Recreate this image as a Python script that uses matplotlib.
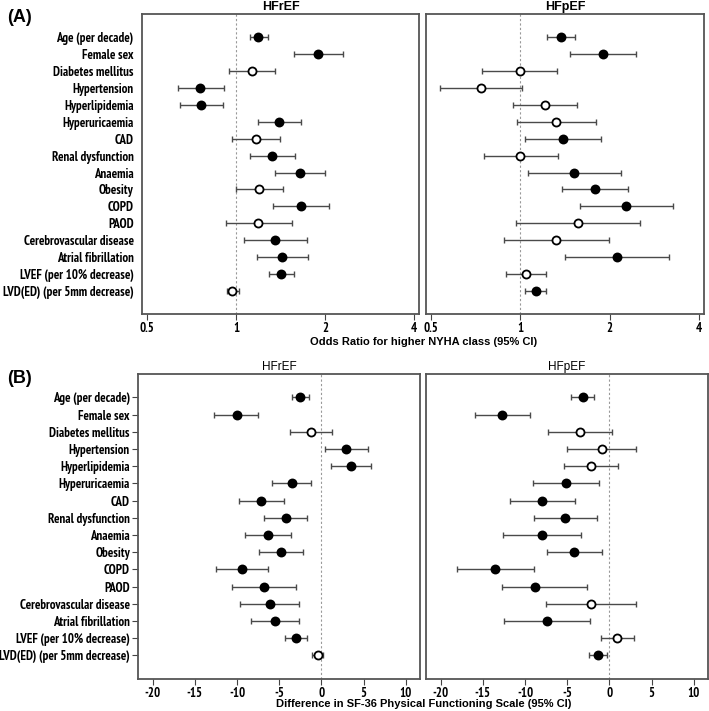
import matplotlib
matplotlib.use("Agg")
import matplotlib.pyplot as plt
from matplotlib import font_manager
import numpy as np

labels = ["Age (per decade)", "Female sex", "Diabetes mellitus", "Hypertension",
          "Hyperlipidemia", "Hyperuricaemia", "CAD", "Renal dysfunction", "Anaemia",
          "Obesity", "COPD", "PAOD", "Cerebrovascular disease", "Atrial fibrillation",
          "LVEF (per 10% decrease)", "LVD(ED) (per 5mm decrease)"]

# Panel A: odds ratios
a_ref_est = [1.19, 1.90, 1.13, 0.757, 0.763, 1.40, 1.166, 1.327, 1.642, 1.199, 1.659, 1.187, 1.358, 1.435, 1.424, 0.972]
a_ref_lo  = [1.115, 1.567, 0.945, 0.635, 0.647, 1.184, 0.969, 1.113, 1.355, 0.997, 1.337, 0.923, 1.067, 1.18, 1.296, 0.935]
a_ref_hi  = [1.286, 2.30, 1.35, 0.909, 0.901, 1.655, 1.409, 1.583, 1.995, 1.438, 2.07, 1.55, 1.739, 1.747, 1.571, 1.024]
a_ref_sig = [1, 1, 0, 1, 1, 1, 0, 1, 1, 0, 1, 0, 1, 1, 1, 0]

a_pre_est = [1.369, 1.904, 0.995, 0.738, 1.208, 1.323, 1.391, 1.0, 1.519, 1.784, 2.277, 1.563, 1.323, 2.117, 1.045, 1.127]
a_pre_lo  = [1.231, 1.468, 0.744, 0.536, 0.945, 0.972, 1.037, 0.754, 1.061, 1.38, 1.584, 0.967, 0.878, 1.416, 0.897, 1.037]
a_pre_hi  = [1.527, 2.46, 1.334, 1.015, 1.555, 1.798, 1.865, 1.344, 2.18, 2.31, 3.276, 2.526, 1.99, 3.175, 1.221, 1.224]
a_pre_sig = [1, 1, 0, 0, 0, 0, 1, 0, 1, 1, 1, 0, 0, 1, 0, 1]

# Panel B: SF-36 differences
b_ref_est = [-2.49, -10.04, -1.26, 2.96, 3.52, -3.52, -7.15, -4.23, -6.32, -4.78, -9.37, -6.8, -6.13, -5.45, -3.04, -0.43]
b_ref_lo  = [-3.48, -12.77, -3.72, 0.47, 1.19, -5.81, -9.76, -6.8, -9.05, -7.39, -12.45, -10.55, -9.64, -8.3, -4.35, -1.07]
b_ref_hi  = [-1.5, -7.47, 1.26, 5.49, 5.89, -1.19, -4.47, -1.7, -3.6, -2.21, -6.32, -3.04, -2.69, -2.65, -1.7, 0.16]
b_ref_sig = [1, 1, 0, 1, 1, 1, 1, 1, 1, 1, 1, 1, 1, 1, 1, 0]

b_pre_est = [-3.17, -12.67, -3.52, -0.91, -2.14, -5.19, -7.96, -5.27, -8.0, -4.16, -13.5, -8.79, -2.18, -7.41, 0.95, -1.35]
b_pre_lo  = [-4.51, -15.96, -7.25, -4.99, -5.43, -9.07, -11.72, -8.99, -12.59, -7.45, -18.02, -12.71, -7.52, -12.51, -1.03, -2.38]
b_pre_hi  = [-1.78, -9.35, 0.32, 3.13, 1.07, -1.23, -4.08, -1.5, -3.41, -0.87, -8.91, -2.61, 3.13, -2.26, 2.97, -0.24]
b_pre_sig = [1, 1, 0, 0, 0, 1, 1, 1, 1, 1, 1, 1, 0, 1, 0, 1]

a_ticks = [0.5, 1, 2, 4]
a_ticklabels = ["0.5", "1", "2", "4"]
b_ticks = [-20, -15, -10, -5, 0, 5, 10]
b_ticklabels = ["-20", "-15", "-10", "-5", "0", "5", "10"]

# look for a narrow/condensed bold face; otherwise fall back to a smaller regular sans
narrow_fp = None
cands = []
for f in font_manager.fontManager.ttflist:
    nm = (f.name + " " + f.fname).lower()
    if ("narrow" in nm or "condensed" in nm or f.stretch in ("condensed", "semi-condensed", "extra-condensed")):
        w = f.weight if isinstance(f.weight, int) else (700 if "bold" in str(f.weight) else 400)
        cands.append((("narrow" not in nm), abs(w - 700), "oblique" in nm or "italic" in nm, f.fname))
cands = [c for c in cands if not c[2]]
cands.sort()
if cands:
    narrow_fp = cands[0][3]

def nfont(size):
    if narrow_fp:
        return font_manager.FontProperties(fname=narrow_fp, size=size)
    return font_manager.FontProperties(family=["Liberation Sans", "DejaVu Sans"], weight="bold",
                                       size=size * 0.76)

SANS = ["Liberation Sans", "DejaVu Sans"]

fig = plt.figure(figsize=(7.09, 7.11), dpi=100)

def panel(rect, est, lo, hi, sig, log, null, xlim, ticks, ticklabels, title, title_bold,
          show_labels, ytickmarks):
    ax = fig.add_axes(rect)
    n = len(est)
    ypos = np.arange(n)
    est = np.array(est); lo = np.array(lo); hi = np.array(hi)
    ax.errorbar(est, ypos, xerr=[est - lo, hi - est], fmt="none", ecolor="#4a4a4a",
                elinewidth=1.0, capsize=2.2, capthick=1.0, zorder=2)
    for i in range(n):
        fc = "black" if sig[i] else "white"
        ax.plot(est[i], ypos[i], "o", ms=5.8, mfc=fc, mec="black", mew=1.3, zorder=3)
    ax.axvline(null, color="#999999", lw=0.8, ls=(0, (2, 2)), zorder=1)
    if log:
        ax.set_xscale("log")
        ax.minorticks_off()
    ax.set_xlim(*xlim)
    ax.set_xticks(ticks)
    ax.set_xticklabels(ticklabels, fontproperties=nfont(9.2))
    ax.set_ylim(n - 1 + 1.37, -1.38)
    ax.set_yticks(ypos)
    if show_labels:
        ax.set_yticklabels(labels, fontproperties=nfont(9.3))
    else:
        ax.set_yticklabels([])
    ax.tick_params(axis="y", length=(4 if (ytickmarks and show_labels) else 0),
                   width=0.8, color="#444444", pad=2 if ytickmarks else 6)
    ax.tick_params(axis="x", length=4, width=0.8, color="#444444", pad=2)
    for s in ax.spines.values():
        s.set_color("#555555")
        s.set_linewidth(1.3)
    if title_bold:
        ax.set_title(title, fontfamily=SANS, fontweight="bold", fontsize=9, pad=3)
    else:
        ax.set_title(title, fontfamily=SANS, fontsize=8.5, pad=3)
    return ax

a_xlim = (0.5 * 2 ** (-5 / 89), 4 * 2 ** (5 / 89))
b_xlim = (-21.7, 11.7)

panel([0.2003, 0.5584, 0.3907, 0.4219], a_ref_est, a_ref_lo, a_ref_hi, a_ref_sig, True, 1,
      a_xlim, a_ticks, a_ticklabels, "HFrEF", True, True, False)
panel([0.6008, 0.5584, 0.3921, 0.4219], a_pre_est, a_pre_lo, a_pre_hi, a_pre_sig, True, 1,
      a_xlim, a_ticks, a_ticklabels, "HFpEF", True, False, False)
panel([0.1951, 0.0450, 0.3973, 0.4294], b_ref_est, b_ref_lo, b_ref_hi, b_ref_sig, False, 0,
      b_xlim, b_ticks, b_ticklabels, "HFrEF", False, True, True)
panel([0.6013, 0.0450, 0.3973, 0.4294], b_pre_est, b_pre_lo, b_pre_hi, b_pre_sig, False, 0,
      b_xlim, b_ticks, b_ticklabels, "HFpEF", False, False, True)

fig.text(0.010, 0.975, "(A)", fontfamily=SANS, fontweight="bold", fontsize=13, va="center", ha="left")
fig.text(0.010, 0.468, "(B)", fontfamily=SANS, fontweight="bold", fontsize=13, va="center", ha="left")
fig.text(0.597, 0.519, "Odds Ratio for higher NYHA class (95% CI)", fontfamily=SANS,
         fontweight="bold", fontsize=8, ha="center", va="center")
fig.text(0.597, 0.0095, "Difference in SF-36 Physical Functioning Scale (95% CI)", fontfamily=SANS,
         fontweight="bold", fontsize=8, ha="center", va="center")

fig.savefig("out.png", dpi=100)
